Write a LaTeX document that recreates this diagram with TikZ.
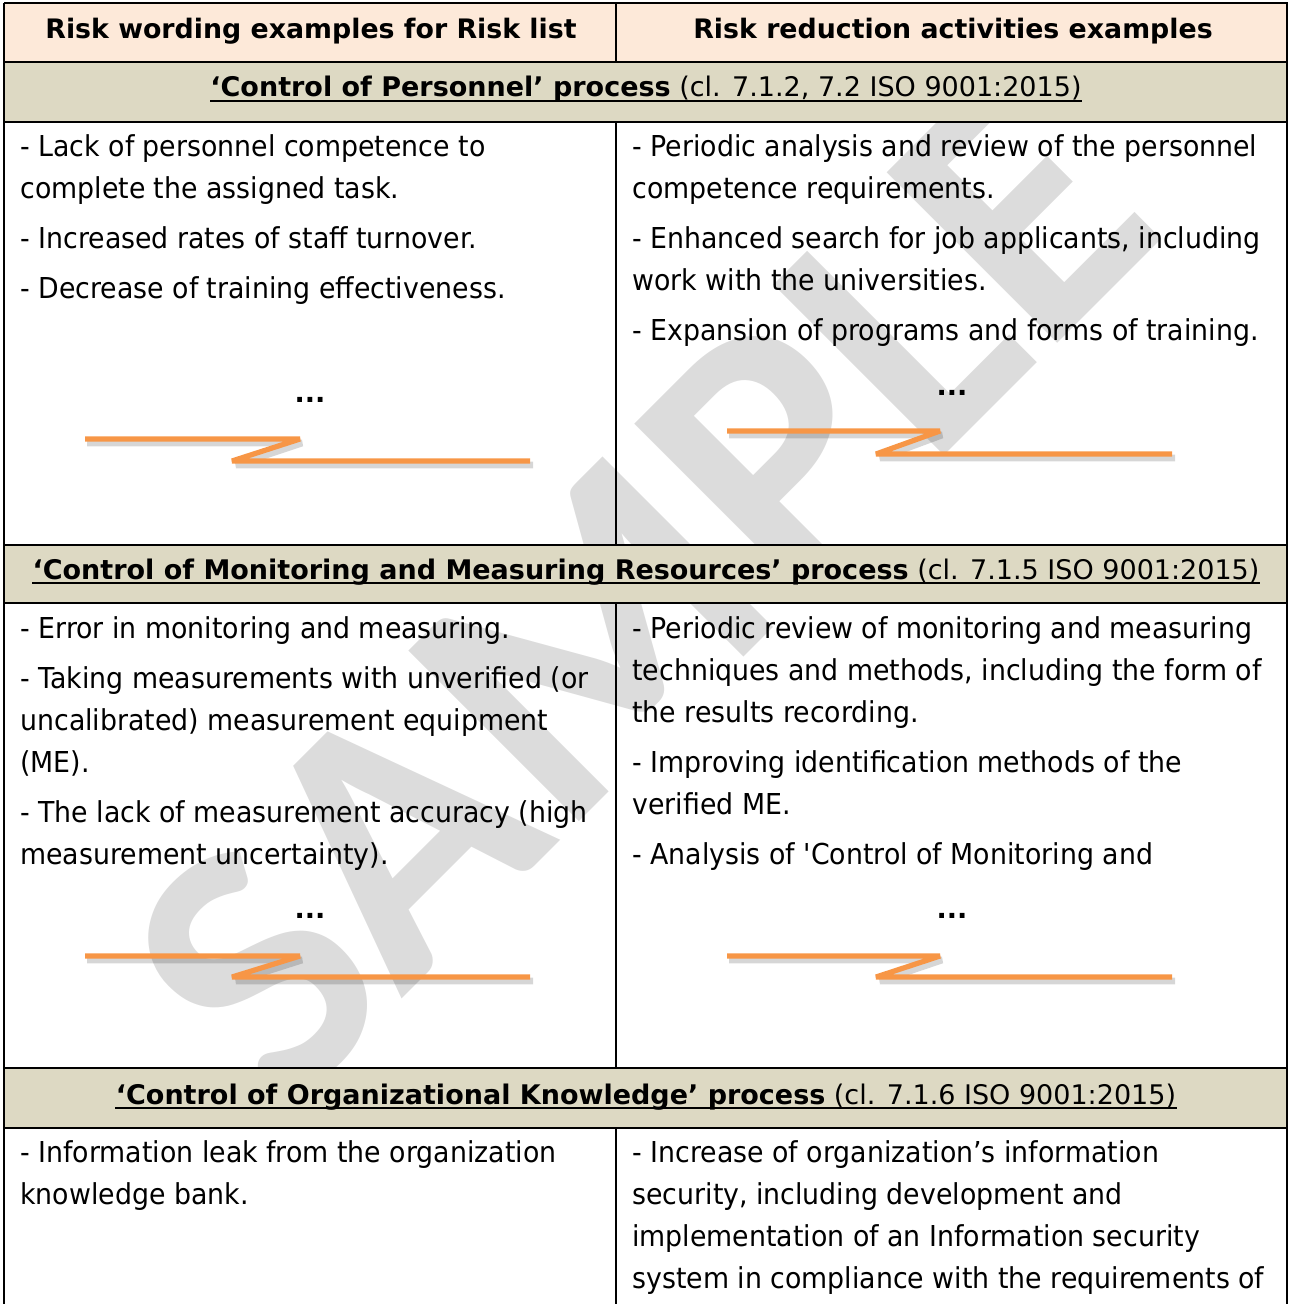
\documentclass[tikz,border=0pt]{standalone}
\usepackage{fontspec}
\setmainfont{DejaVu Sans}
\newfontfamily\bodyfont[FakeStretch=0.93,Ligatures=ResetAll]{DejaVu Sans}
\newfontfamily\markfont{Carlito}
\usetikzlibrary{positioning}
\definecolor{headpeach}{HTML}{FDE9D9}
\definecolor{sectan}{HTML}{DDD9C3}
\definecolor{zorange}{HTML}{F79646}
\definecolor{markgray}{HTML}{DCDCDC}
\tikzset{
  colhead/.style={font=\bfseries\fontsize{13.4}{15}\selectfont, inner sep=0pt, anchor=base},
  sechead/.style={font=\fontsize{13.5}{16}\selectfont, inner sep=0pt, anchor=base},
  celltext/.style={font=\bodyfont\fontsize{14.4}{21}\selectfont, align=left, inner sep=0pt, anchor=north west},
  dotsmark/.style={font=\bfseries\fontsize{13.5}{15}\selectfont, inner sep=0pt},
  zline/.style={draw=zorange, line width=2.6pt, line join=bevel},
  zshade/.style={draw=black, opacity=0.16, line width=3.4pt, line join=bevel},
  gridline/.style={draw=black, line width=0.7pt},
}
\begin{document}
\begin{tikzpicture}[x=0.5pt,y=-0.5pt]
\useasboundingbox (0,0) rectangle (1288,1304);
% backgrounds and watermark
\fill[headpeach] (4,3) rectangle (1288,62);
\node[markgray, font=\markfont\bfseries\fontsize{186}{190}\selectfont, rotate=45] (mark) at (640,590) {SAMPLE};
\fill[sectan] (4,62) rectangle (1288,122);
\fill[sectan] (4,545) rectangle (1288,603);
\fill[sectan] (4,1068) rectangle (1288,1128);
% column headers
\node[colhead] (colL) at (311,39) {Risk wording examples for Risk list};
\node[colhead] (colR) at (953,39) {Risk reduction activities examples};
% process headers
\node[sechead] (sec1) at (646,97) {{\bfseries ‘Control of Personnel’ process} (cl. 7.1.2, 7.2 ISO 9001:2015)};
\node[sechead] (sec2) at (646,579) {{\bfseries ‘Control of Monitoring and Measuring Resources’ process} (cl. 7.1.5 ISO 9001:2015)};
\node[sechead] (sec3) at (646,1104) {{\bfseries ‘Control of Organizational Knowledge’ process} (cl. 7.1.6 ISO 9001:2015)};
\draw[line width=1pt] ([yshift=-2pt]sec1.base west) -- ([yshift=-2pt]sec1.base east);
\draw[line width=1pt] ([yshift=-2pt]sec2.base west) -- ([yshift=-2pt]sec2.base east);
\draw[line width=1pt] ([yshift=-2pt]sec3.base west) -- ([yshift=-2pt]sec3.base east);
% cells
\node[celltext] (c1l) at (20,134) {- Lack of personnel competence to\\ complete the assigned task.\\[4pt]
  - Increased rates of staff turnover.\\[4pt]
  - Decrease of training effectiveness.};
\node[celltext] (c1r) at (632,134) {- Periodic analysis and review of the personnel\\ competence requirements.\\[4pt]
  - Enhanced search for job applicants, including\\ work with the universities.\\[4pt]
  - Expansion of programs and forms of training.};
\node[celltext] (c2l) at (20,616) {- Error in monitoring and measuring.\\[4pt]
  - Taking measurements with unverified (or\\ uncalibrated) measurement equipment\\ (ME).\\[4pt]
  - The lack of measurement accuracy (high\\ measurement uncertainty).};
\node[celltext] (c2r) at (632,616) {- Periodic review of monitoring and measuring\\ techniques and methods, including the form of\\ the results recording.\\[4pt]
  - Improving identification methods of the\\ verified ME.\\[4pt]
  - Analysis of 'Control of Monitoring and};
\node[celltext] (c3l) at (20,1140) {- Information leak from the organization\\ knowledge bank.};
\node[celltext] (c3r) at (632,1140) {- Increase of organization’s information\\ security, including development and\\ implementation of an Information security\\ system in compliance with the requirements of};
% omitted parts
\node[dotsmark] (d1l) at (310,400) {...};
\node[dotsmark] (d1r) at (952,393) {...};
\node[dotsmark] (d2l) at (310,916) {...};
\node[dotsmark] (d2r) at (952,916) {...};
\draw[zshade] (87,443) -- (302,443) -- (236,465) -- (533,465);
\draw[zline] (85,439) -- (300,439) -- (232,461) -- (530,461);
\draw[zshade] (729,435) -- (942,435) -- (880,458) -- (1175,458);
\draw[zline] (727,431) -- (940,431) -- (876,454) -- (1172,454);
\draw[zshade] (87,960) -- (302,960) -- (236,981) -- (533,981);
\draw[zline] (85,956) -- (300,956) -- (232,977) -- (530,977);
\draw[zshade] (729,960) -- (942,960) -- (880,981) -- (1175,981);
\draw[zline] (727,956) -- (940,956) -- (876,977) -- (1172,977);
% table rules
\draw[gridline] (4,3) -- (1287,3) -- (1287,1304);
\draw[gridline] (4,3) -- (4,1304);
\draw[gridline] (4,62) -- (1287,62);
\draw[gridline] (4,122) -- (1287,122);
\draw[gridline] (4,545) -- (1287,545);
\draw[gridline] (4,603) -- (1287,603);
\draw[gridline] (4,1068) -- (1287,1068);
\draw[gridline] (4,1128) -- (1287,1128);
\draw[gridline] (616,3) -- (616,62);
\draw[gridline] (616,122) -- (616,545);
\draw[gridline] (616,603) -- (616,1068);
\draw[gridline] (616,1128) -- (616,1304);
\end{tikzpicture}
\end{document}
